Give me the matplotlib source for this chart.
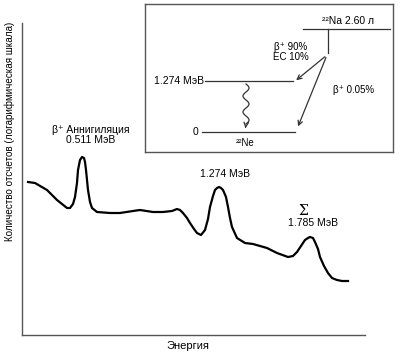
import numpy as np
import matplotlib.pyplot as plt

plt.rcParams["font.family"] = ["Liberation Sans", "DejaVu Sans"]

# gamma spectrum trace (arbitrary energy / log-count units)
energy = [6, 13, 25, 35, 45, 48, 51, 53, 55, 56, 58, 60, 62, 63, 64, 66, 68, 70,
          75, 88, 98, 111, 118, 131, 141, 150, 155, 158, 161, 165, 168, 172, 175,
          179, 183, 186, 188, 191, 193, 195, 197, 199, 201, 204, 206, 208, 210,
          215, 223, 231, 245, 255, 266, 271, 275, 279, 283, 286, 288, 291, 293,
          296, 298, 302, 306, 310, 315, 320, 326]
counts = [153, 152, 145, 135, 127, 127, 131, 138, 152, 165, 175, 178, 177, 173,
          165, 145, 133, 127, 123, 122, 122, 124, 125, 123, 123, 124, 126, 125,
          122, 117, 112, 106, 102, 100, 105, 116, 128, 139, 145, 147, 148, 147,
          145, 138, 128, 117, 108, 97, 92, 91, 87, 82, 78, 79, 83, 89, 95, 97,
          98, 97, 93, 86, 78, 69, 62, 57, 55, 54, 54]

peak_labels = ["β⁺ Аннигиляция\n0.511 МэВ", "1.274 МэВ", "1.785 МэВ"]
peak_pos = [(69, 200), (203, 161), (291, 112)]
sum_label = "Σ"

# decay scheme: level names and energies
level_labels = ["1.274 МэВ", "0"]
parent_label = "²²Na 2.60 л"
daughter_label = "²²Ne"
branch_labels = ["β⁺ 90%\nEC 10%", "β⁺ 0.05%"]

fig = plt.figure(figsize=(4.0, 3.57), dpi=100)
W, H = 400, 357

ax = fig.add_axes([22 / W, 1 - 335 / H, 343 / W, 312 / H])
ax.plot(energy, counts, color="black", lw=1.6, solid_joinstyle="round")
ax.set_xlim(0, 343)
ax.set_ylim(0, 312)
ax.set_xticks([])
ax.set_yticks([])
for s in ["top", "right"]:
    ax.spines[s].set_visible(False)
for s in ["left", "bottom"]:
    ax.spines[s].set_color("#555555")
    ax.spines[s].set_linewidth(1.0)
for txt, (x, y) in zip(peak_labels, peak_pos):
    ax.text(x, y, txt, ha="center", va="center", fontsize=7.5, linespacing=1.1)
ax.text(281, 124, sum_label, ha="center", va="center", fontsize=10,
        family="DejaVu Serif", fontweight="light")

fig.text(188 / W, 1 - 346 / H, "Энергия", ha="center", va="center", fontsize=8)
fig.text(10 / W, 1 - 131 / H, "Количество отсчетов (логарифмическая шкала)",
         rotation=90, ha="center", va="center", fontsize=7.1)

# inset decay scheme, drawn in pixel-like units
ins = fig.add_axes([145 / W, 1 - 152 / H, 248 / W, 148 / H])
ins.set_xlim(145, 393)
ins.set_ylim(152, 4)
ins.set_xticks([])
ins.set_yticks([])
for s in ins.spines.values():
    s.set_color("#555555")
    s.set_linewidth(1.0)

lc = "#333333"
ins.plot([303, 390], [29, 29], color=lc, lw=0.9)
ins.plot([328, 328], [29, 53], color=lc, lw=0.9)
ins.plot([205, 293], [81, 81], color=lc, lw=0.9)
ins.plot([202, 295], [132, 132], color=lc, lw=0.9)
ins.text(348, 21, parent_label, ha="center", va="center", fontsize=7.5)
ins.text(204, 81, level_labels[0], ha="right", va="center", fontsize=7.5)
ins.text(198, 132, level_labels[1], ha="right", va="center", fontsize=7.5)
ins.text(245, 143, daughter_label, ha="center", va="center", fontsize=7)
ins.text(291, 52, branch_labels[0], ha="center", va="center", fontsize=7,
         linespacing=1.1)
ins.text(354, 90, branch_labels[1], ha="center", va="center", fontsize=7)

ap = dict(arrowstyle="->", color=lc, lw=0.9, mutation_scale=8)
ins.annotate("", xy=(294, 82), xytext=(327, 55), arrowprops=ap)
ins.annotate("", xy=(297, 129), xytext=(327, 55), arrowprops=ap)

# wavy gamma transition
wy = np.linspace(84, 124, 80)
wx = 246 + 3 * np.sin((wy - 84) / 40 * 2.5 * 2 * np.pi)
ins.plot(wx, wy, color=lc, lw=0.9)
ins.annotate("", xy=(245, 131), xytext=(wx[-1], wy[-1]), arrowprops=ap)

fig.savefig("out.png", dpi=100)
